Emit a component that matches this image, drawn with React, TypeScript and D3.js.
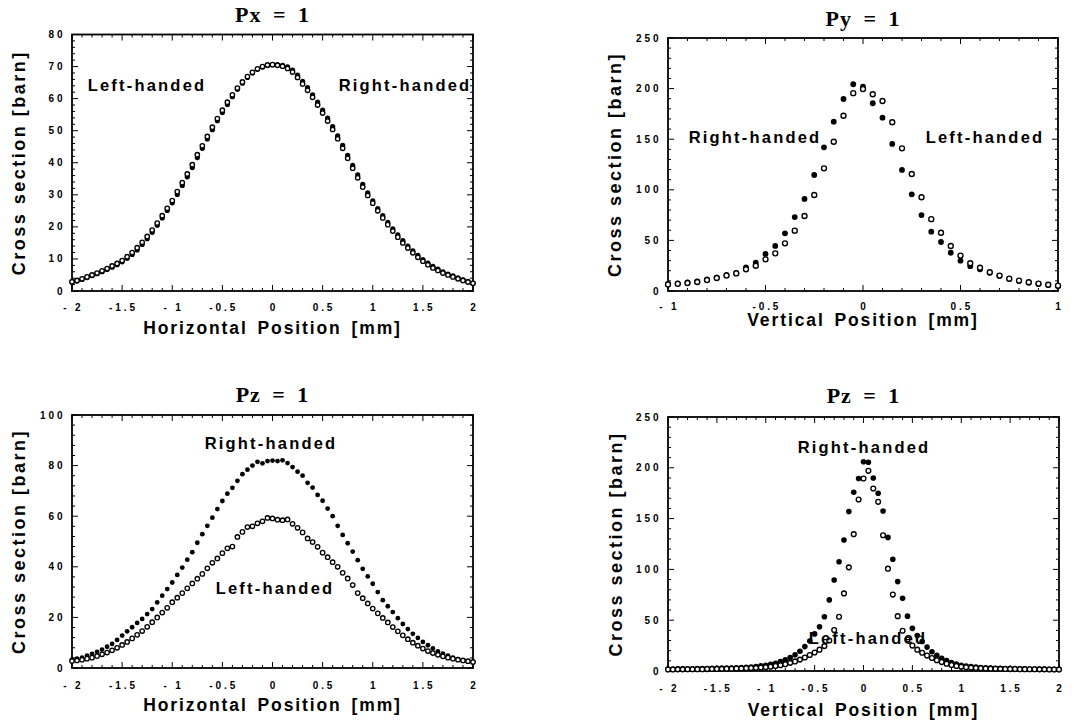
import React from "react";
import * as d3 from "d3";

// sample positions [mm]
const POS_2MM = [-2, -1.95, -1.9, -1.85, -1.8, -1.75, -1.7, -1.65, -1.6, -1.55, -1.5, -1.45, -1.4, -1.35, -1.3, -1.25, -1.2, -1.15, -1.1, -1.05, -1, -0.95, -0.9, -0.85, -0.8, -0.75, -0.7, -0.65, -0.6, -0.55, -0.5, -0.45, -0.4, -0.35, -0.3, -0.25, -0.2, -0.15, -0.1, -0.05, 0, 0.05, 0.1, 0.15, 0.2, 0.25, 0.3, 0.35, 0.4, 0.45, 0.5, 0.55, 0.6, 0.65, 0.7, 0.75, 0.8, 0.85, 0.9, 0.95, 1, 1.05, 1.1, 1.15, 1.2, 1.25, 1.3, 1.35, 1.4, 1.45, 1.5, 1.55, 1.6, 1.65, 1.7, 1.75, 1.8, 1.85, 1.9, 1.95, 2];
const POS_1MM = [-1, -0.95, -0.9, -0.85, -0.8, -0.75, -0.7, -0.65, -0.6, -0.55, -0.5, -0.45, -0.4, -0.35, -0.3, -0.25, -0.2, -0.15, -0.1, -0.05, 0, 0.05, 0.1, 0.15, 0.2, 0.25, 0.3, 0.35, 0.4, 0.45, 0.5, 0.55, 0.6, 0.65, 0.7, 0.75, 0.8, 0.85, 0.9, 0.95, 1];

// cross sections [barn]
const PX_RIGHT = [2.7, 3.1, 3.6, 4.2, 4.8, 5.4, 6.0, 6.7, 7.4, 8.2, 9.1, 10.2, 11.4, 12.8, 14.5, 16.3, 18.3, 20.5, 22.8, 25.1, 27.5, 30.1, 32.9, 35.6, 38.5, 41.6, 44.5, 47.4, 50.3, 53.1, 55.7, 58.2, 60.6, 62.9, 64.8, 66.6, 68.0, 69.2, 69.9, 70.3, 70.6, 70.6, 70.4, 69.9, 68.9, 67.3, 65.4, 63.4, 61.2, 58.9, 56.4, 53.9, 51.3, 48.4, 45.4, 42.3, 39.2, 36.2, 33.3, 30.6, 28.1, 25.7, 23.5, 21.4, 19.4, 17.5, 15.7, 14.0, 12.5, 11.1, 9.8, 8.7, 7.7, 6.8, 6.0, 5.3, 4.7, 4.1, 3.5, 3.0, 2.5];
const PX_LEFT = [2.9, 3.3, 3.8, 4.4, 5.0, 5.6, 6.3, 7.0, 7.8, 8.6, 9.5, 10.7, 12.0, 13.5, 15.2, 17.0, 19.0, 21.2, 23.5, 25.8, 28.2, 31.0, 33.8, 36.5, 39.4, 42.5, 45.3, 48.2, 51.1, 53.8, 56.4, 58.9, 61.2, 63.3, 65.2, 66.9, 68.2, 69.3, 70.0, 70.5, 70.6, 70.4, 70.1, 69.4, 68.3, 66.6, 64.6, 62.6, 60.4, 58.0, 55.5, 53.0, 50.4, 47.5, 44.5, 41.4, 38.3, 35.3, 32.4, 29.8, 27.4, 25.0, 22.8, 20.7, 18.7, 16.8, 15.0, 13.4, 11.9, 10.5, 9.3, 8.2, 7.2, 6.4, 5.6, 5.0, 4.4, 3.8, 3.3, 2.8, 2.4];

const PY_RIGHT = [6.9, 7.6, 8.4, 9.4, 11.5, 13.3, 16.0, 18.0, 23.4, 28.0, 36.6, 44.5, 57.0, 73.0, 91.0, 114.6, 142.0, 167.3, 189.7, 204.3, 201.9, 185.5, 171.3, 145.3, 119.6, 95.5, 75.0, 58.6, 48.4, 37.8, 30.0, 24.5, 21.5, 18.0, 14.8, 11.8, 9.9, 8.2, 6.9, 5.9, 5.0];
const PY_LEFT = [6.4, 7.1, 7.9, 8.9, 10.8, 12.8, 15.2, 17.4, 21.5, 25.0, 31.3, 37.2, 47.1, 59.6, 74.1, 94.9, 121.2, 147.5, 173.2, 195.5, 199.5, 194.4, 187.7, 166.7, 141.0, 115.6, 92.6, 71.0, 57.6, 44.5, 35.0, 27.4, 23.0, 18.5, 15.2, 12.2, 10.3, 8.6, 7.3, 6.2, 5.3];

const PZH_RIGHT = [3.3, 3.7, 4.1, 4.9, 5.6, 6.4, 7.3, 8.4, 9.5, 11.1, 12.8, 14.5, 16.1, 17.8, 19.4, 21.3, 23.3, 25.9, 28.6, 31.2, 33.8, 36.8, 39.7, 42.8, 45.8, 49.5, 52.9, 56.2, 59.4, 62.8, 66.0, 68.9, 71.2, 74.0, 76.6, 78.4, 80.0, 81.5, 80.9, 81.8, 82.0, 81.8, 82.1, 81.0, 79.4, 77.6, 76.0, 73.2, 71.3, 68.4, 66.1, 63.0, 60.0, 56.2, 52.6, 49.3, 46.0, 42.6, 39.2, 36.2, 33.3, 30.0, 26.8, 24.4, 22.1, 19.7, 17.4, 15.4, 13.5, 11.9, 10.3, 9.0, 7.7, 6.6, 5.7, 4.9, 4.1, 3.5, 3.0, 2.6, 2.2];
const PZH_LEFT = [2.8, 3.0, 3.3, 3.7, 4.1, 4.7, 5.4, 6.1, 7.0, 8.0, 9.1, 10.3, 11.7, 13.1, 14.6, 16.3, 18.1, 20.0, 21.9, 23.8, 26.0, 27.8, 29.6, 31.5, 33.4, 35.3, 37.2, 39.4, 41.6, 43.3, 45.4, 47.3, 48.0, 51.8, 53.8, 55.7, 56.0, 57.2, 58.0, 59.3, 59.1, 58.6, 58.4, 58.7, 57.0, 55.4, 53.6, 51.2, 49.8, 47.9, 45.6, 43.8, 41.8, 40.0, 37.6, 35.4, 32.8, 29.6, 27.6, 25.5, 23.5, 21.6, 19.8, 18.0, 16.2, 14.5, 12.9, 11.4, 10.0, 8.8, 7.7, 6.7, 5.9, 5.2, 4.6, 4.1, 3.7, 3.3, 3.0, 2.7, 2.4];

const PZV_RIGHT = [2.0, 2.0, 2.1, 2.1, 2.2, 2.2, 2.3, 2.4, 2.5, 2.6, 2.7, 2.8, 2.9, 3.0, 3.2, 3.4, 3.6, 4.0, 4.4, 5.0, 5.7, 6.6, 7.7, 9.2, 11.0, 13.2, 16.0, 19.5, 24.0, 29.5, 36.5, 43.6, 53.4, 70.0, 89.5, 107.5, 129.0, 157.0, 176.0, 189.5, 206.0, 205.5, 190.0, 175.0, 157.5, 131.5, 110.0, 88.0, 71.5, 54.0, 42.0, 35.0, 29.0, 23.5, 19.0, 15.5, 12.5, 10.2, 8.3, 6.8, 5.7, 4.9, 4.3, 3.8, 3.4, 3.1, 2.9, 2.7, 2.6, 2.5, 2.4, 2.3, 2.2, 2.1, 2.0, 1.9, 1.9, 1.8, 1.7, 1.7, 1.6];
const PZV_LEFT = [1.5, 1.5, 1.6, 1.6, 1.7, 1.7, 1.8, 1.8, 1.9, 2.0, 2.0, 2.1, 2.2, 2.3, 2.4, 2.5, 2.7, 2.9, 3.1, 3.4, 3.8, 4.3, 4.9, 5.7, 6.7, 8.0, 9.4, 11.2, 13.3, 15.7, 18.2, 21.0, 24.5, 30.0, 40.3, 53.4, 76.4, 102.0, 134.7, 168.8, 189.5, 197.0, 179.6, 166.5, 133.6, 100.7, 75.2, 54.0, 39.6, 31.0, 25.0, 21.0, 18.0, 15.2, 12.8, 10.6, 8.8, 7.2, 6.0, 5.0, 4.3, 3.7, 3.3, 3.0, 2.7, 2.5, 2.3, 2.2, 2.1, 2.0, 1.9, 1.9, 1.8, 1.8, 1.7, 1.7, 1.6, 1.6, 1.5, 1.5, 1.5];

// axis ticks
const X_TICKS_2 = [-2, -1.5, -1, -0.5, 0, 0.5, 1, 1.5, 2];
const X_LABELS_2 = ["- 2", "-1.5", "- 1", "-0.5", "0", "0.5", "1", "1.5", "2"];
const X_TICKS_1 = [-1, -0.5, 0, 0.5, 1];
const X_LABELS_1 = ["- 1", "-0.5", "0", "0.5", "1"];
const Y_TICKS_80 = [0, 10, 20, 30, 40, 50, 60, 70, 80];
const Y_TICKS_100 = [0, 20, 40, 60, 80, 100];
const Y_TICKS_250 = [0, 50, 100, 150, 200, 250];

const SANS = "'Liberation Sans', Arial, Helvetica, sans-serif";
const SERIF = "'Liberation Serif', 'Times New Roman', serif";

type PanelProps = {
  title: string;
  xTitle: string;
  pos: number[];
  right: number[];
  left: number[];
  xTicks: number[];
  xLabels: string[];
  xMinor: number;
  yTicks: number[];
  yMinor: number;
  box: [number, number, number, number]; // left, right, top, bottom
  titleY: number;
  tickY: number;
  xTitleY: number;
  yTitleX: number;
  rhLabel: [number, number];
  lhLabel: [number, number];
  dot: [number, number]; // filled radius, open radius
};

function Panel(p: PanelProps) {
  const [l, r, t, b] = p.box;
  const xd = [p.xTicks[0], p.xTicks[p.xTicks.length - 1]];
  const yd = [p.yTicks[0], p.yTicks[p.yTicks.length - 1]];
  const x = d3.scaleLinear().domain(xd).range([l, r]);
  const y = d3.scaleLinear().domain(yd).range([b, t]);

  const xMinor = d3.range(xd[0], xd[1] + 1e-9, p.xMinor);
  const yMinor = d3.range(yd[0], yd[1] + 1e-9, p.yMinor);
  const cx = (l + r) / 2;
  const cy = (t + b) / 2;

  const isMajorX = (v: number) => p.xTicks.some((m) => Math.abs(m - v) < 1e-6);
  const isMajorY = (v: number) => p.yTicks.some((m) => Math.abs(m - v) < 1e-6);

  return (
    <g>
      <text
        x={cx}
        y={p.titleY}
        textAnchor="middle"
        fontFamily={SERIF}
        fontWeight="bold"
        fontSize={22}
        letterSpacing={1}
        wordSpacing={5}
      >
        {p.title}
      </text>

      {/* ticks, inward on all four sides */}
      <g stroke="#000" strokeWidth={1}>
        {xMinor.map((v, i) => {
          const len = isMajorX(v) ? 6 : 3;
          return (
            <g key={"x" + i}>
              <line x1={x(v)} x2={x(v)} y1={b} y2={b - len} />
              <line x1={x(v)} x2={x(v)} y1={t} y2={t + len} />
            </g>
          );
        })}
        {yMinor.map((v, i) => {
          const len = isMajorY(v) ? 6 : 3;
          return (
            <g key={"y" + i}>
              <line x1={l} x2={l + len} y1={y(v)} y2={y(v)} />
              <line x1={r} x2={r - len} y1={y(v)} y2={y(v)} />
            </g>
          );
        })}
      </g>
      <rect x={l} y={t} width={r - l} height={b - t} fill="none" stroke="#000" strokeWidth={1.8} />

      <g fontFamily={SANS} fontWeight="bold" fontSize={10} letterSpacing={2.9}>
        {p.xTicks.map((v, i) => (
          <text key={"xl" + i} x={x(v) + 1.4} y={p.tickY} textAnchor="middle">
            {p.xLabels[i]}
          </text>
        ))}
        {p.yTicks.map((v, i) => (
          <text key={"yl" + i} x={l - 6.5} y={y(v)} dy="0.35em" textAnchor="end">
            {String(v)}
          </text>
        ))}
      </g>

      <text
        x={cx}
        y={p.xTitleY}
        textAnchor="middle"
        fontFamily={SANS}
        fontWeight="bold"
        fontSize={17.5}
        letterSpacing={1.9}
        wordSpacing={3}
      >
        {p.xTitle}
      </text>
      <text
        transform={`translate(${p.yTitleX},${cy}) rotate(-90)`}
        textAnchor="middle"
        fontFamily={SANS}
        fontWeight="bold"
        fontSize={18}
        letterSpacing={2.5}
      >
        Cross section [barn]
      </text>

      {/* right-handed: filled, left-handed: open */}
      <g fill="#000">
        {p.right.map((v, i) => (
          <circle key={"r" + i} cx={x(p.pos[i])} cy={y(v)} r={p.dot[0]} />
        ))}
      </g>
      <g fill="#fff" stroke="#000" strokeWidth={1.35}>
        {p.left.map((v, i) => (
          <circle key={"l" + i} cx={x(p.pos[i])} cy={y(v)} r={p.dot[1]} />
        ))}
      </g>

      <g fontFamily={SANS} fontWeight="bold" fontSize={16.5} letterSpacing={2.2} textAnchor="middle">
        <text x={p.rhLabel[0]} y={p.rhLabel[1]} dy="0.36em">Right-handed</text>
        <text x={p.lhLabel[0]} y={p.lhLabel[1]} dy="0.36em">Left-handed</text>
      </g>
    </g>
  );
}

export default function App() {
  return (
    <svg
      width={1074}
      height={725}
      style={{ position: "absolute", left: 0, top: 0, background: "#fff" }}
    >
      <rect width={1074} height={725} fill="#fff" />
      <Panel
        title="Px = 1"
        xTitle="Horizontal Position [mm]"
        pos={POS_2MM}
        right={PX_RIGHT}
        left={PX_LEFT}
        xTicks={X_TICKS_2}
        xLabels={X_LABELS_2}
        xMinor={0.1}
        yTicks={Y_TICKS_80}
        yMinor={2}
        box={[72, 473, 34.5, 291]}
        titleY={22}
        tickY={311}
        xTitleY={333.5}
        yTitleX={25}
        rhLabel={[405, 85]}
        lhLabel={[147, 85]}
        dot={[2.6, 2.2]}
      />
      <Panel
        title="Py = 1"
        xTitle="Vertical Position [mm]"
        pos={POS_1MM}
        right={PY_RIGHT}
        left={PY_LEFT}
        xTicks={X_TICKS_1}
        xLabels={X_LABELS_1}
        xMinor={0.1}
        yTicks={Y_TICKS_250}
        yMinor={10}
        box={[668, 1058, 38, 291]}
        titleY={26}
        tickY={309.5}
        xTitleY={326}
        yTitleX={621}
        rhLabel={[755, 137]}
        lhLabel={[985, 137]}
        dot={[2.9, 2.5]}
      />
      <Panel
        title="Pz = 1"
        xTitle="Horizontal Position [mm]"
        pos={POS_2MM}
        right={PZH_RIGHT}
        left={PZH_LEFT}
        xTicks={X_TICKS_2}
        xLabels={X_LABELS_2}
        xMinor={0.1}
        yTicks={Y_TICKS_100}
        yMinor={4}
        box={[72, 473, 415, 668]}
        titleY={402}
        tickY={688.5}
        xTitleY={710.5}
        yTitleX={25}
        rhLabel={[271, 443]}
        lhLabel={[275, 588]}
        dot={[2.4, 2.2]}
      />
      <Panel
        title="Pz = 1"
        xTitle="Vertical Position [mm]"
        pos={POS_2MM}
        right={PZV_RIGHT}
        left={PZV_LEFT}
        xTicks={X_TICKS_2}
        xLabels={X_LABELS_2}
        xMinor={0.1}
        yTicks={Y_TICKS_250}
        yMinor={10}
        box={[668, 1059, 417, 671]}
        titleY={403}
        tickY={691.5}
        xTitleY={715.5}
        yTitleX={622}
        rhLabel={[864, 447]}
        lhLabel={[868, 638]}
        dot={[2.8, 2.4]}
      />
    </svg>
  );
}
